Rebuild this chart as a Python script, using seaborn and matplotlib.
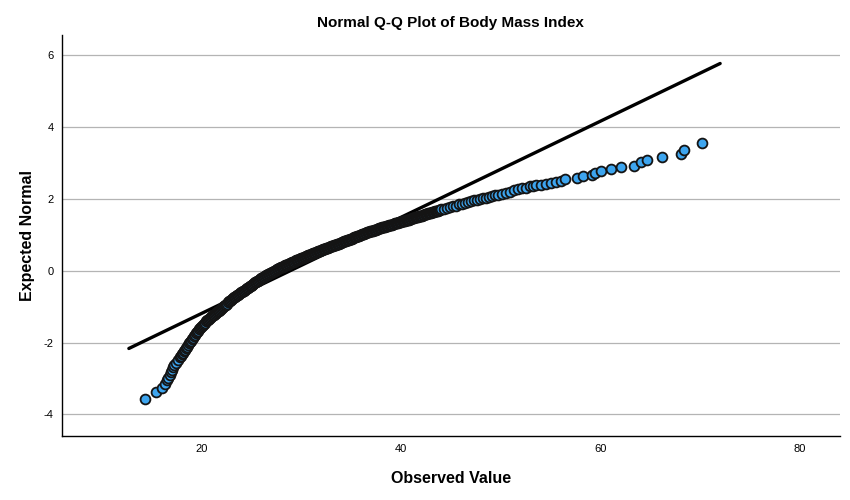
import pandas as pd
import matplotlib
matplotlib.use("Agg")
import matplotlib.pyplot as plt
import seaborn as sns

# =========================
# DATA
# =========================

observed_bmi = [
    # lower tail
    14.3, 15.4, 16.0, 16.3, 16.5, 16.6, 16.8, 16.9, 17.0, 17.1, 17.2, 17.4, 17.6,
    # dense body
    17.8, 17.9, 18.0, 18.1, 18.2, 18.3, 18.4, 18.5, 18.6, 18.7,
    18.8, 18.9, 19.0, 19.1, 19.2, 19.3, 19.4, 19.5, 19.6, 19.7,
    19.8, 19.9, 20.0, 20.1, 20.2, 20.3, 20.4, 20.5, 20.6, 20.7,
    20.8, 20.9, 21.0, 21.1, 21.2, 21.3, 21.4, 21.5, 21.6, 21.7,
    21.8, 21.9, 22.0, 22.1, 22.2, 22.3, 22.4, 22.5, 22.6, 22.7,
    22.8, 22.9, 23.0, 23.1, 23.2, 23.3, 23.4, 23.5, 23.6, 23.7,
    23.8, 23.9, 24.0, 24.1, 24.2, 24.3, 24.4, 24.5, 24.6, 24.7,
    24.8, 24.9, 25.0, 25.1, 25.2, 25.3, 25.4, 25.5, 25.6, 25.7,
    25.8, 25.9, 26.0, 26.1, 26.2, 26.3, 26.4, 26.5, 26.6, 26.7,
    26.8, 26.9, 27.0, 27.1, 27.2, 27.3, 27.4, 27.5, 27.6, 27.7,
    27.8, 27.9, 28.0, 28.1, 28.2, 28.3, 28.4, 28.5, 28.6, 28.7,
    28.8, 28.9, 29.0, 29.1, 29.2, 29.3, 29.4, 29.5, 29.6, 29.7,
    29.8, 29.9, 30.0, 30.1, 30.2, 30.3, 30.4, 30.5, 30.6, 30.7,
    30.8, 30.9, 31.0, 31.1, 31.2, 31.3, 31.4, 31.5, 31.6, 31.7,
    31.8, 31.9, 32.0, 32.1, 32.2, 32.3, 32.4, 32.5, 32.6, 32.7,
    32.8, 32.9, 33.0, 33.1, 33.2, 33.3, 33.4, 33.5, 33.6, 33.7,
    33.8, 33.9, 34.0, 34.1, 34.2, 34.3, 34.4, 34.5, 34.6, 34.7,
    34.8, 34.9, 35.0, 35.1, 35.2, 35.3, 35.4, 35.5, 35.6, 35.7,
    35.8, 35.9, 36.0, 36.1, 36.2, 36.3, 36.4, 36.5, 36.6, 36.7,
    36.8, 36.9, 37.0, 37.1, 37.2, 37.3, 37.4, 37.5, 37.6, 37.7,
    37.8, 37.9, 38.0, 38.1, 38.2, 38.3, 38.4, 38.5, 38.6, 38.7,
    38.8, 38.9, 39.0, 39.1, 39.2, 39.3, 39.4, 39.5, 39.6, 39.7,
    39.8, 39.9, 40.0, 40.1, 40.2, 40.3, 40.4, 40.5, 40.6, 40.7,
    40.8, 40.9, 41.0, 41.1, 41.2, 41.3, 41.4, 41.5, 41.6, 41.7,
    41.8, 41.9, 42.0, 42.1, 42.2, 42.3, 42.4, 42.5, 42.6, 42.7,
    42.8, 42.9, 43.0, 43.1, 43.2, 43.3, 43.4, 43.5, 43.6, 43.7,
    43.8, 43.9, 44.0,
    # thinning upper part
    44.3, 44.6, 44.9, 45.2, 45.5, 45.8, 46.1, 46.4, 46.7, 47.0,
    47.3, 47.6, 47.9, 48.2, 48.5, 48.8, 49.1, 49.4, 49.7, 50.1,
    50.5, 50.9, 51.3, 51.7, 52.1, 52.5, 52.9, 53.2, 53.5, 54.0,
    54.5, 55.0, 55.5, 56.0, 56.4,
    # upper tail
    57.6, 58.2, 59.1, 59.4, 60.1, 61.1, 62.1, 63.4, 64.1, 64.7,
    66.2, 68.1, 68.4, 70.2,
]

expected_normal = [
    # lower tail
    -3.57, -3.38, -3.27, -3.14, -3.05, -2.99, -2.90, -2.83, -2.76, -2.69, -2.63, -2.56, -2.48,
    # dense body
    -2.40, -2.36, -2.32, -2.28, -2.24, -2.20, -2.16, -2.11, -2.07, -2.02,
    -1.98, -1.94, -1.90, -1.86, -1.82, -1.78, -1.74, -1.70, -1.67, -1.63,
    -1.60, -1.57, -1.54, -1.50, -1.47, -1.44, -1.41, -1.38, -1.36, -1.33,
    -1.31, -1.29, -1.27, -1.24, -1.22, -1.20, -1.18, -1.15, -1.13, -1.11,
    -1.09, -1.06, -1.04, -1.01, -0.99, -0.96, -0.94, -0.91, -0.88, -0.85,
    -0.83, -0.80, -0.78, -0.76, -0.74, -0.72, -0.70, -0.68, -0.66, -0.64,
    -0.62, -0.60, -0.59, -0.57, -0.55, -0.53, -0.51, -0.49, -0.47, -0.45,
    -0.43, -0.41, -0.40, -0.38, -0.36, -0.34, -0.32, -0.30, -0.29, -0.27,
    -0.25, -0.23, -0.21, -0.19, -0.18, -0.16, -0.14, -0.12, -0.11, -0.09,
    -0.08, -0.06, -0.05, -0.03, -0.02, 0.00, 0.01, 0.03, 0.04, 0.06,
    0.07, 0.09, 0.10, 0.11, 0.12, 0.14, 0.15, 0.16, 0.17, 0.19,
    0.20, 0.21, 0.22, 0.24, 0.25, 0.26, 0.27, 0.29, 0.30, 0.31,
    0.32, 0.34, 0.35, 0.36, 0.37, 0.38, 0.39, 0.41, 0.42, 0.43,
    0.44, 0.45, 0.46, 0.48, 0.49, 0.50, 0.51, 0.52, 0.53, 0.54,
    0.55, 0.56, 0.57, 0.59, 0.60, 0.61, 0.62, 0.63, 0.64, 0.65,
    0.66, 0.67, 0.68, 0.69, 0.70, 0.71, 0.72, 0.73, 0.74, 0.75,
    0.76, 0.78, 0.79, 0.80, 0.81, 0.82, 0.83, 0.84, 0.85, 0.86,
    0.87, 0.88, 0.89, 0.90, 0.91, 0.93, 0.94, 0.95, 0.96, 0.97,
    0.98, 0.99, 1.00, 1.02, 1.03, 1.04, 1.05, 1.06, 1.07, 1.08,
    1.09, 1.10, 1.11, 1.11, 1.12, 1.13, 1.14, 1.15, 1.16, 1.17,
    1.18, 1.19, 1.20, 1.21, 1.22, 1.22, 1.23, 1.24, 1.25, 1.26,
    1.27, 1.28, 1.29, 1.29, 1.30, 1.31, 1.32, 1.33, 1.34, 1.34,
    1.35, 1.36, 1.37, 1.38, 1.39, 1.39, 1.40, 1.41, 1.42, 1.42,
    1.43, 1.44, 1.45, 1.46, 1.47, 1.48, 1.49, 1.49, 1.50, 1.51,
    1.52, 1.53, 1.54, 1.54, 1.55, 1.56, 1.57, 1.58, 1.59, 1.60,
    1.61, 1.61, 1.62, 1.63, 1.64, 1.65, 1.66, 1.66, 1.67, 1.68,
    1.69, 1.70, 1.71,
    # thinning upper part
    1.73, 1.76, 1.78, 1.80, 1.82, 1.85, 1.87, 1.89, 1.91, 1.94,
    1.96, 1.98, 2.00, 2.02, 2.04, 2.06, 2.08, 2.10, 2.12, 2.15,
    2.18, 2.21, 2.24, 2.27, 2.30, 2.32, 2.35, 2.36, 2.38, 2.40,
    2.42, 2.45, 2.48, 2.51, 2.55,
    # upper tail
    2.60, 2.64, 2.67, 2.73, 2.79, 2.83, 2.88, 2.93, 3.03, 3.09,
    3.17, 3.25, 3.37, 3.56,
]

# normal reference line: mean / sd of BMI and the x range it spans
bmi_mean = 28.85
bmi_sd = 7.47
line_x = [12.7, 72.0]

x_ticks = [20, 40, 60, 80]
y_ticks = [-4, -2, 0, 2, 4, 6]

df = pd.DataFrame({"observed": observed_bmi, "expected": expected_normal})
line_df = pd.DataFrame({"x": line_x})
line_df["y"] = (line_df["x"] - bmi_mean) / bmi_sd

# =========================
# PLOT
# =========================

sns.set_style("white")
plt.rcParams["font.family"] = ["Liberation Sans", "DejaVu Sans"]
plt.rcParams["axes.unicode_minus"] = False
plt.rcParams["text.color"] = "black"
plt.rcParams["axes.labelcolor"] = "black"
plt.rcParams["xtick.color"] = "black"
plt.rcParams["ytick.color"] = "black"

fig = plt.figure(figsize=(8.5, 5), dpi=100)
ax = fig.add_axes([0.073, 0.128, 0.915, 0.802])

ax.set_axisbelow(True)
ax.yaxis.grid(True, color="#b4b4b4", linewidth=0.9)
ax.xaxis.grid(False)

sns.lineplot(
    data=line_df,
    x="x",
    y="y",
    color="black",
    linewidth=2.4,
    ax=ax,
    zorder=2
)

sns.scatterplot(
    data=df,
    x="observed",
    y="expected",
    color="#3da5ef",
    edgecolor="#141414",
    linewidth=1.3,
    s=50,
    ax=ax,
    zorder=3
)

ax.set_xlim(6, 84)
ax.set_ylim(-4.6, 6.57)
ax.set_xticks(x_ticks)
ax.set_yticks(y_ticks)
ax.tick_params(axis="both", length=0, labelsize=8, pad=6)

sns.despine(ax=ax)
for side in ["left", "bottom"]:
    ax.spines[side].set_color("black")
    ax.spines[side].set_linewidth(1.0)

ax.set_title("Normal Q-Q Plot of Body Mass Index", fontsize=11, fontweight="bold", pad=6)
ax.set_xlabel("Observed Value", fontsize=11.5, fontweight="bold", labelpad=12)
ax.set_ylabel("Expected Normal", fontsize=11.5, fontweight="bold", labelpad=6)

fig.savefig("out.png", dpi=100)
